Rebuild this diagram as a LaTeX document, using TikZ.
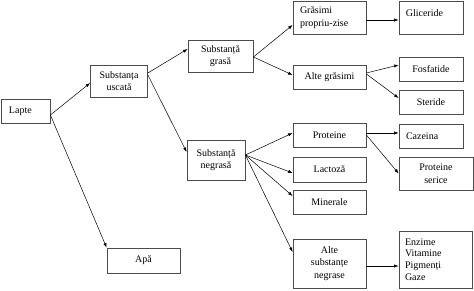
\documentclass[tikz,border=0pt]{standalone}
\usepackage{fontspec}
\setmainfont{Liberation Serif}
\usetikzlibrary{arrows.meta}
\tikzset{
  box/.style={draw=black!70, line width=0.8pt, inner sep=0pt, align=center,
    font=\fontsize{10}{12.5}\selectfont},
  conn/.style={draw=black, line width=0.5pt, -{Latex[length=4.5pt,width=3.2pt]}},
  txt/.style={inner sep=0pt, align=left, font=\fontsize{10}{12}\selectfont}
}
\begin{document}
\begin{tikzpicture}[x=1pt,y=-1pt]
\useasboundingbox (0,0) rectangle (474,291);
% level 0/1
\node[box, minimum width=49, minimum height=24, text width=33, align=left] (lapte) at (25.5,111) {Lapte};
\node[box, minimum width=57, minimum height=32] (uscata) at (119,81) {Substanța\\uscată};
\node[box, minimum width=73, minimum height=25] (apa) at (143.5,260.5) {Apă};
% level 2
\node[box, minimum width=65, minimum height=32] (grasa) at (220.5,56) {Substanță\\grasă};
\node[box, minimum width=58, minimum height=40] (negrasa) at (216,160) {Substanță\\negrasă};
% level 3
\node[box, minimum width=73, minimum height=33, text width=59, align=left] (gp) at (329.5,17.5) {Grăsimi\\propriu-zise};
\node[box, minimum width=73, minimum height=24] (alteg) at (329.5,77) {Alte grăsimi};
\node[box, minimum width=73, minimum height=24] (proteine) at (329.5,135.5) {Proteine};
\node[box, minimum width=73, minimum height=25] (lactoza) at (329.5,169.5) {Lactoză};
\node[box, minimum width=73, minimum height=24] (minerale) at (329.5,202.5) {Minerale};
\node[box, minimum width=73, minimum height=49] (altes) at (329.5,263.5) {Alte\\substanțe\\negrase};
% level 4
\node[box, minimum width=64, minimum height=33] (gliceride) at (431,17.5) {};
\node[txt, anchor=west] (glicT) at ([xshift=7pt, yshift=4.5pt]gliceride.west) {Gliceride};
\node[box, minimum width=64, minimum height=24] (fosfatide) at (431,69) {Fosfatide};
\node[box, minimum width=64, minimum height=24] (steride) at (431,102) {Steride};
\node[box, minimum width=64, minimum height=24, text width=50, align=left] (cazeina) at (431,136) {Cazeina};
\node[box, minimum width=74, minimum height=33] (serice) at (436,173.5) {Proteine\\serice};
\node[box, minimum width=73, minimum height=57, text width=61, align=left,
      font=\fontsize{10}{11.8}\selectfont] (enzime) at (435.5,259.5) {Enzime\\Vitamine\\Pigmenți\\Gaze};
% connectors
\draw[conn] ([yshift=-4pt]lapte.east) -- ([yshift=-2pt]uscata.west);
\draw[conn] ([yshift=-4pt]lapte.east) -- (apa.north west);
\draw[conn] ([yshift=8pt]uscata.east) -- ([yshift=7pt]grasa.west);
\draw[conn] ([yshift=6pt]uscata.east) -- ([yshift=8pt]negrasa.west);
\draw[conn] ([yshift=-1pt]grasa.east) -- ([yshift=-7.5pt]gp.west);
\draw[conn] ([yshift=-1pt]grasa.east) -- ([yshift=2pt]alteg.west);
\draw[conn] ([yshift=-2.5pt]gp.east) -- ([yshift=-2.5pt]gliceride.west);
\draw[conn] ([yshift=4pt]alteg.east) -- ([yshift=4pt]fosfatide.west);
\draw[conn] ([yshift=3pt]alteg.east) -- ([yshift=4pt]steride.west);
\draw[conn] ([yshift=5pt]negrasa.east) -- ([yshift=2.5pt]proteine.west);
\draw[conn] ([yshift=5pt]negrasa.east) -- ([yshift=-3.5pt]lactoza.west);
\draw[conn] ([yshift=5pt]negrasa.east) -- ([yshift=6.5pt]minerale.west);
\draw[conn] ([yshift=5pt]negrasa.east) -- ([yshift=11.5pt]altes.west);
\draw[conn] ([yshift=2.5pt]proteine.east) -- ([yshift=3pt]cazeina.west);
\draw[conn] ([yshift=0.5pt]proteine.east) -- (serice.west);
\draw[conn] ([yshift=-2.5pt]altes.east) -- ([yshift=-6.5pt]enzime.west);
\end{tikzpicture}
\end{document}
